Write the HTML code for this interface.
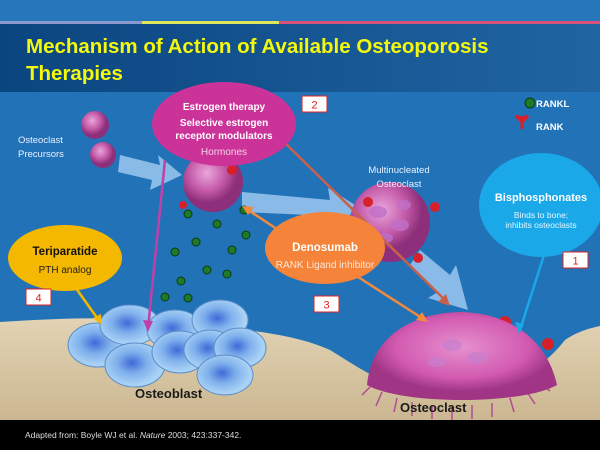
<!DOCTYPE html>
<html><head><meta charset="utf-8"><style>
body{margin:0;width:600px;height:450px;overflow:hidden;background:#2272b8}
svg{display:block}
text{font-family:"Liberation Sans",sans-serif}
</style></head><body>
<svg width="600" height="450" viewBox="0 0 600 450" xmlns="http://www.w3.org/2000/svg">
<defs>
<linearGradient id="tb" x1="0" x2="1"><stop offset="0" stop-color="#0b457f"/><stop offset="1" stop-color="#2065a3"/></linearGradient>
<radialGradient id="pk" cx="0.4" cy="0.35"><stop offset="0" stop-color="#e9a6dc"/><stop offset="0.6" stop-color="#c45aa8"/><stop offset="1" stop-color="#8d2f7a"/></radialGradient>
<radialGradient id="dome" cx="0.5" cy="0.4"><stop offset="0" stop-color="#e690cf"/><stop offset="0.7" stop-color="#d25ab0"/><stop offset="1" stop-color="#a03585"/></radialGradient>
<radialGradient id="ob" cx="0.45" cy="0.45"><stop offset="0" stop-color="#3f6ad8"/><stop offset="0.5" stop-color="#7fb0ec"/><stop offset="1" stop-color="#a9d2f5"/></radialGradient>
<linearGradient id="bone" x1="0" y1="0" x2="0" y2="1"><stop offset="0" stop-color="#e2d3b4"/><stop offset="1" stop-color="#cbb791"/></linearGradient>
</defs>
<rect width="600" height="450" fill="#2272b8"/>
<rect width="600" height="23" fill="#2775bb"/>
<rect y="21" width="142" height="3" fill="#8a9ad0"/>
<rect x="142" y="21" width="137" height="3" fill="#e0e85a"/>
<rect x="279" y="21" width="321" height="3" fill="#d9507a"/>
<rect y="24" width="600" height="68" fill="url(#tb)"/>
<text x="26" y="53" font-size="20.5" font-weight="bold" fill="#f4f80c">Mechanism of Action of Available Osteoporosis</text>
<text x="26" y="80" font-size="20.5" font-weight="bold" fill="#f4f80c">Therapies</text>

<!-- bone -->
<path d="M0 322 C60 318 120 316 180 322 C240 330 290 332 330 350 C360 368 390 392 440 394 C500 394 540 372 565 340 C580 330 592 328 600 326 L600 420 L0 420 Z" fill="url(#bone)"/>
<rect y="420" width="600" height="30" fill="#000"/>
<text x="25" y="438" font-size="8.5" fill="#ddd">Adapted from: Boyle WJ et al. <tspan font-style="italic">Nature</tspan> 2003; 423:337-342.</text>

<!-- big light arrows -->
<g fill="#9cc8f0" opacity="0.85">
<polygon points="120,155 160,165 158,155 182,175 150,190 152,180 118,172"/>
<polygon points="242,192 330,200 328,188 360,208 330,228 332,216 242,212"/>
<polygon points="420,250 450,275 456,265 468,310 428,298 438,292 410,265"/>
</g>

<!-- precursors -->
<circle cx="95" cy="125" r="14" fill="url(#pk)"/>
<circle cx="103" cy="155" r="13" fill="url(#pk)"/>
<circle cx="213" cy="182" r="30" fill="url(#pk)"/>
<circle cx="390" cy="222" r="40" fill="url(#pk)"/>
<g fill="#c070c8" opacity="0.8"><ellipse cx="378" cy="212" rx="9" ry="6"/><ellipse cx="400" cy="225" rx="9" ry="6"/><ellipse cx="385" cy="238" rx="8" ry="5"/><ellipse cx="404" cy="205" rx="7" ry="5"/></g>

<!-- RANKL dots -->
<g fill="#1e7a2a" stroke="#0c3a12" stroke-width="1">
<circle cx="188" cy="214" r="4"/><circle cx="217" cy="224" r="4"/><circle cx="244" cy="210" r="4"/><circle cx="246" cy="235" r="4"/><circle cx="196" cy="242" r="4"/><circle cx="175" cy="252" r="4"/><circle cx="207" cy="270" r="4"/><circle cx="232" cy="250" r="4"/><circle cx="181" cy="281" r="4"/><circle cx="188" cy="298" r="4"/><circle cx="165" cy="297" r="4"/><circle cx="227" cy="274" r="4"/><circle cx="530" cy="103" r="5"/>
</g>
<!-- RANK red -->
<g fill="#d8202a">
<circle cx="232" cy="170" r="5"/><circle cx="183" cy="205" r="4"/><circle cx="368" cy="202" r="5"/><circle cx="435" cy="207" r="5"/><circle cx="418" cy="258" r="5"/>
<circle cx="425" cy="322" r="6"/><circle cx="400" cy="336" r="6"/><circle cx="505" cy="322" r="6"/><circle cx="548" cy="344" r="6"/><circle cx="508" cy="388" r="5"/>
<path d="M522 122 l-6 -6 l6 2 l6 -2 z M522 120 v9" stroke="#d8202a" stroke-width="3"/>
</g>

<!-- osteoclast dome -->
<g stroke="#b44a95" stroke-width="1.5">
<path d="M372 385 l-10 10 M382 392 l-6 14 M397 398 l-3 14 M412 402 v14 M432 405 v14 M452 406 v14 M472 405 v14 M492 403 v14 M510 398 l4 14 M527 392 l8 12 M540 383 l10 8"/>
</g>
<path d="M367 385 C372 330 422 312 462 312 C512 314 547 340 557 385 C522 405 402 405 367 385 Z" fill="url(#dome)"/>
<g fill="#c77fcf" opacity="0.7"><ellipse cx="452" cy="345" rx="10" ry="6"/><ellipse cx="477" cy="358" rx="10" ry="6"/><ellipse cx="437" cy="362" rx="9" ry="5"/></g>

<!-- osteoblasts -->
<g stroke="#5c8dc8" stroke-width="1">
<ellipse cx="98" cy="345" rx="30" ry="22" fill="url(#ob)"/>
<ellipse cx="130" cy="325" rx="30" ry="20" fill="url(#ob)"/>
<ellipse cx="175" cy="330" rx="28" ry="20" fill="url(#ob)"/>
<ellipse cx="220" cy="320" rx="28" ry="20" fill="url(#ob)"/>
<ellipse cx="135" cy="365" rx="30" ry="22" fill="url(#ob)"/>
<ellipse cx="180" cy="352" rx="28" ry="21" fill="url(#ob)"/>
<ellipse cx="210" cy="350" rx="26" ry="20" fill="url(#ob)"/>
<ellipse cx="240" cy="348" rx="26" ry="20" fill="url(#ob)"/>
<ellipse cx="225" cy="375" rx="28" ry="20" fill="url(#ob)"/>
</g>
<text x="135" y="398" font-size="13" font-weight="bold" fill="#1a1a1a">Osteoblast</text>
<text x="400" y="412" font-size="13" font-weight="bold" fill="#1a1a1a">Osteoclast</text>

<!-- connectors -->
<g stroke-width="2.5" fill="none">
<line x1="165" y1="160" x2="148" y2="328" stroke="#c040a8"/>
<line x1="283" y1="141" x2="447" y2="302" stroke="#c8604a"/>
<line x1="283" y1="233" x2="245" y2="208" stroke="#f08a3c"/>
<line x1="355" y1="275" x2="425" y2="320" stroke="#f08a3c"/>
<line x1="73" y1="284" x2="100" y2="322" stroke="#f5b800"/>
<line x1="545" y1="252" x2="520" y2="330" stroke="#1aa8e8"/>
</g>
<g>
<polygon points="148,332 143,320 153,321" fill="#c040a8"/>
<polygon points="450,306 438,302 446,294" fill="#c8604a"/>
<polygon points="242,206 254,207 248,215" fill="#f08a3c"/>
<polygon points="428,322 416,320 422,312" fill="#f08a3c"/>
<polygon points="102,325 93,318 101,314" fill="#f5b800"/>
<polygon points="519,334 515,322 524,324" fill="#1aa8e8"/>
</g>

<!-- labels -->
<ellipse cx="224" cy="124" rx="72" ry="42" fill="#cc3399"/>
<text x="224" y="110" font-size="10" font-weight="bold" fill="#fff" text-anchor="middle">Estrogen therapy</text>
<text x="224" y="126" font-size="10" font-weight="bold" fill="#fff" text-anchor="middle">Selective estrogen</text>
<text x="224" y="139" font-size="10" font-weight="bold" fill="#fff" text-anchor="middle">receptor modulators</text>
<text x="224" y="155" font-size="10" fill="#f3d0ea" text-anchor="middle">Hormones</text>

<ellipse cx="541" cy="205" rx="62" ry="52" fill="#1aa8e8"/>
<text x="541" y="201" font-size="11" font-weight="bold" fill="#fff" text-anchor="middle">Bisphosphonates</text>
<text x="541" y="218" font-size="8.5" fill="#e6f6ff" text-anchor="middle">Binds to bone;</text>
<text x="541" y="228" font-size="8.5" fill="#e6f6ff" text-anchor="middle">inhibits osteoclasts</text>

<ellipse cx="325" cy="248" rx="60" ry="36" fill="#f5843a"/>
<text x="325" y="251" font-size="11.5" font-weight="bold" fill="#fff" text-anchor="middle">Denosumab</text>
<text x="325" y="268" font-size="10" fill="#fde7d6" text-anchor="middle">RANK Ligand inhibitor</text>

<ellipse cx="65" cy="258" rx="57" ry="33" fill="#f5b800"/>
<text x="65" y="255" font-size="11.5" font-weight="bold" fill="#111" text-anchor="middle">Teriparatide</text>
<text x="65" y="273" font-size="10" fill="#222" text-anchor="middle">PTH analog</text>

<text x="18" y="143" font-size="9.5" fill="#e8f0ff">Osteoclast</text>
<text x="18" y="157" font-size="9.5" fill="#e8f0ff">Precursors</text>
<text x="399" y="173" font-size="9.5" fill="#e8f0ff" text-anchor="middle">Multinucleated</text>
<text x="399" y="187" font-size="9.5" fill="#e8f0ff" text-anchor="middle">Osteoclast</text>
<text x="536" y="107" font-size="9.5" font-weight="bold" fill="#fff">RANKL</text>
<text x="536" y="130" font-size="9.5" font-weight="bold" fill="#fff">RANK</text>

<g font-size="11" fill="#e02020" text-anchor="middle">
<rect x="302" y="96" width="25" height="16" fill="#fff" stroke="#e02020" rx="1"/><text x="314.5" y="108.5">2</text>
<rect x="563" y="252" width="25" height="16" fill="#fff" stroke="#e02020" rx="1"/><text x="575.5" y="264.5">1</text>
<rect x="314" y="296" width="25" height="16" fill="#fff" stroke="#e02020" rx="1"/><text x="326.5" y="308.5">3</text>
<rect x="26" y="289" width="25" height="16" fill="#fff" stroke="#e02020" rx="1"/><text x="38.5" y="301.5">4</text>
</g>
</svg>
</body></html>
